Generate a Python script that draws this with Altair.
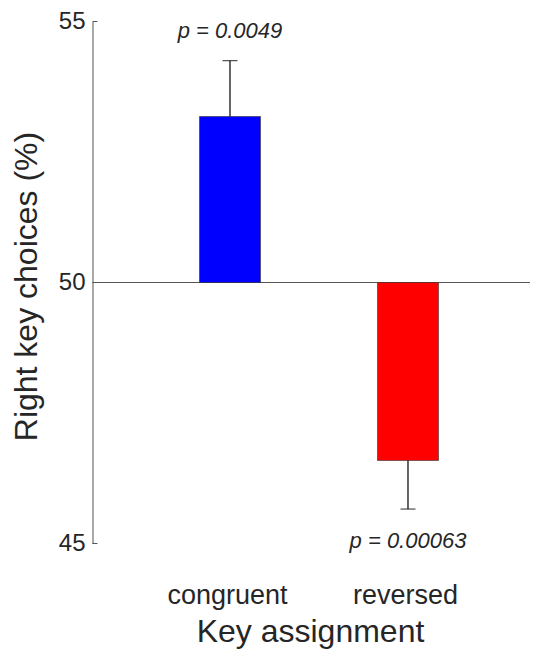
import altair as alt
import pandas as pd

# ---- data ----
conditions = ["congruent", "reversed"]
means = [53.18, 46.59]
err_ends = [54.25, 45.66]
p_labels = ["p = 0.0049", "p = 0.00063"]
bar_colors = ["#0000FF", "#FF0000"]
baseline_value = [50]
y_ticks = [45, 50, 55]

df = pd.DataFrame({
    "condition": conditions,
    "mean": means,
    "err": err_ends,
    "plabel": p_labels,
    "color": bar_colors,
    "base": baseline_value * len(conditions),
})
base_df = pd.DataFrame({"base": baseline_value})
ticks_df = pd.DataFrame({"v": y_ticks})

FONT = "Liberation Sans"
TXT = "#262626"
AX = "#555555"

x_scale = alt.Scale(paddingInner=0.6573, paddingOuter=0.5576, align=0.539)
x_axis = alt.Axis(
    title="Key assignment", labelAngle=0, ticks=False, tickSize=0, domain=False,
    tickOffset=-3,
    labelFontSize=27, labelPadding=60, labelBaseline="alphabetic",
    titleFontSize=32, titleX=217.5, titleY=98, titleBaseline="alphabetic",
    titleAlign="center", grid=False,
)
y_scale = alt.Scale(domain=[45, 55], nice=False, zero=False)
y_axis = alt.Axis(
    values=y_ticks, ticks=False, tickSize=0, domainColor=AX, domainWidth=1,
    labelFontSize=24, labelPadding=7.5, grid=False,
    title="Right key choices (%)", titleFontSize=32, titleAngle=270,
    titleX=-56, titleY=264.5, titleBaseline="alphabetic", titleAlign="center",
)

X = alt.X("condition:N", sort=conditions, scale=x_scale, axis=x_axis)

base = alt.Chart(df)

zero_line = alt.Chart(base_df).mark_rule(color=AX, strokeWidth=1).encode(
    y=alt.Y("base:Q", scale=y_scale, axis=y_axis)
)

tick_marks = alt.Chart(ticks_df).mark_rule(color=AX, strokeWidth=1).encode(
    y=alt.Y("v:Q", scale=y_scale, axis=y_axis),
    x=alt.value(0), x2=alt.value(5),
)

bars = base.mark_bar(stroke="#333333", strokeWidth=0.6).encode(
    x=X,
    y=alt.Y("mean:Q", scale=y_scale, axis=y_axis),
    y2="base:Q",
    color=alt.Color("color:N", scale=None),
)

err = base.mark_rule(color="black", strokeWidth=1.2).encode(
    x=X,
    y=alt.Y("mean:Q", scale=y_scale, axis=y_axis),
    y2="err:Q",
)

caps = base.mark_tick(color="black", size=15, thickness=1.2).encode(
    x=X,
    y=alt.Y("err:Q", scale=y_scale, axis=y_axis),
)

txt_up = base.transform_filter("datum.mean > 50").mark_text(
    font=FONT, fontSize=22, fontStyle="italic", color=TXT, dy=-30, baseline="middle"
).encode(
    x=X, y=alt.Y("err:Q", scale=y_scale, axis=y_axis), text="plabel:N"
)

txt_down = base.transform_filter("datum.mean < 50").mark_text(
    font=FONT, fontSize=22, fontStyle="italic", color=TXT, dy=32, baseline="middle"
).encode(
    x=X, y=alt.Y("err:Q", scale=y_scale, axis=y_axis), text="plabel:N"
)

chart = alt.layer(zero_line, bars, err, caps, txt_up, txt_down, tick_marks).properties(
    width=437.5, height=522,
    autosize=alt.AutoSizeParams(type="none"),
    padding={"left": 84.5, "top": 13.5, "right": 0, "bottom": 106},
    background="white",
).configure_view(stroke=None).configure_axis(
    labelFont=FONT, titleFont=FONT, labelColor=TXT, titleColor=TXT,
    titleFontWeight="normal",
)

chart.save("out.html", embed_options={"renderer": "svg", "actions": False})
